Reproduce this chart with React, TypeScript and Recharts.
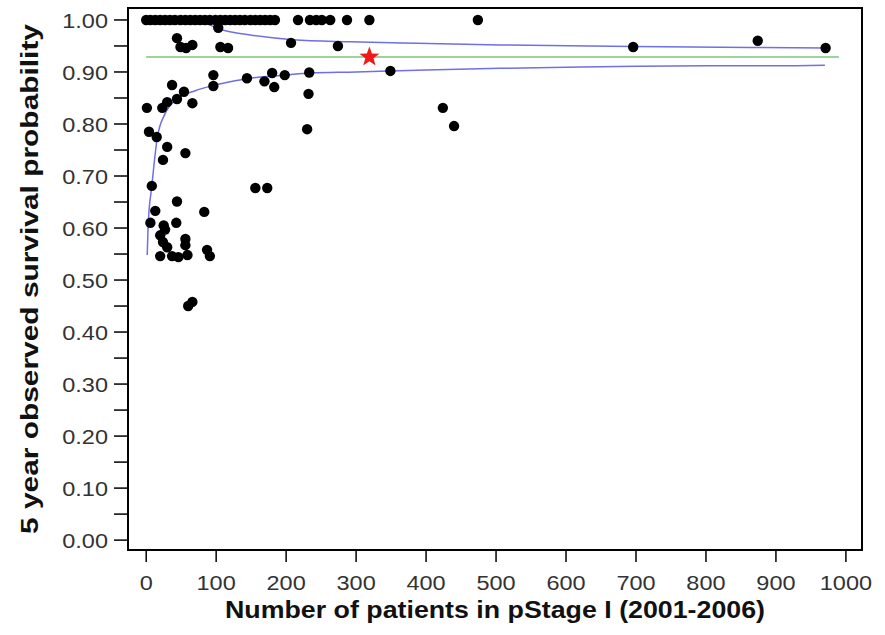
import React from 'react';
import { ComposedChart, XAxis, YAxis, Line, Scatter, ReferenceArea, Label } from 'recharts';

// Hospitals: number of pStage I patients and 5-year observed survival
const hospitalN = [
  0, 6, 13, 20, 27, 34, 41, 49, 56, 63, 70, 77, 84, 91, 99, 106, 113, 120, 127, 134, 141, 149, 156, 163, 170, 177, 184,
  217, 234, 243, 251, 263, 287, 319, 474,
  44, 49, 57, 66, 106, 117, 103, 207, 274, 696, 874, 971,
  96, 96, 37, 54, 44, 30, 23, 1, 66, 4, 15, 144, 169, 180, 183, 198, 233, 232, 230, 349, 424, 440,
  30, 56, 24, 8, 156, 173, 44, 13, 83, 6, 25, 43, 27, 20, 24, 56, 56, 30, 87, 20, 37, 46, 59, 91, 66, 60,
];
const hospitalSurvival = [
  1, 1, 1, 1, 1, 1, 1, 1, 1, 1, 1, 1, 1, 1, 1, 1, 1, 1, 1, 1, 1, 1, 1, 1, 1, 1, 1,
  1, 1, 1, 1, 1, 1, 1, 1,
  0.965, 0.948, 0.946, 0.952, 0.948, 0.946, 0.985, 0.956, 0.95, 0.948, 0.96, 0.946,
  0.894, 0.873, 0.875, 0.862, 0.848, 0.842, 0.831, 0.831, 0.84, 0.785, 0.775, 0.888, 0.882, 0.898, 0.871, 0.894, 0.899, 0.858, 0.79, 0.902, 0.831, 0.796,
  0.756, 0.744, 0.731, 0.681, 0.677, 0.677, 0.651, 0.633, 0.631, 0.61, 0.605, 0.61, 0.597, 0.586, 0.573, 0.579, 0.567, 0.563, 0.558, 0.546, 0.546, 0.544, 0.548, 0.546, 0.458, 0.45,
];

// Highlighted hospital (star)
const starN = [319];
const starSurvival = [0.929];

// Overall mean line
const meanN = [0, 990];
const meanSurvival = [0.929, 0.929];

// Funnel control limits
const lowerN = [1.5, 3, 8, 16, 27, 44, 70, 96, 127, 144, 200, 234, 300, 349, 400, 506, 600, 700, 800, 900, 970];
const lowerSurvival = [0.548, 0.61, 0.68, 0.775, 0.82, 0.848, 0.864, 0.874, 0.883, 0.887, 0.894, 0.898, 0.9, 0.902, 0.904, 0.907, 0.909, 0.911, 0.912, 0.912, 0.913];
const upperN = [75, 90, 103, 134, 149, 210, 291, 387, 506, 696, 971];
const upperSurvival = [1.0, 0.991, 0.983, 0.974, 0.971, 0.962, 0.958, 0.955, 0.952, 0.949, 0.946];

const xTicks = [0, 100, 200, 300, 400, 500, 600, 700, 800, 900, 1000];
const yTicks = [0, 0.05, 0.1, 0.15, 0.2, 0.25, 0.3, 0.35, 0.4, 0.45, 0.5, 0.55, 0.6, 0.65, 0.7, 0.75, 0.8, 0.85, 0.9, 0.95, 1.0];
const yTickLabels = ['0.00', '', '0.10', '', '0.20', '', '0.30', '', '0.40', '', '0.50', '', '0.60', '', '0.70', '', '0.80', '', '0.90', '', '1.00'];

const zip = (ns: number[], ys: number[]) => ns.map((n, i) => ({ n, y: ys[i] }));
const points = zip(hospitalN, hospitalSurvival);
const star = zip(starN, starSurvival);
const mean = zip(meanN, meanSurvival);
const lower = zip(lowerN, lowerSurvival);
const upper = zip(upperN, upperSurvival);

const X_DOMAIN: [number, number] = [-26, 1023];
const Y_DOMAIN: [number, number] = [-0.019, 1.023];
const FONT = '"Liberation Sans", Arial, sans-serif';

const XTick = (props: any) => {
  const { x, payload } = props;
  return (
    <g transform={`translate(${x},590) scale(1.12,1)`}>
      <text x={0} y={0} textAnchor="middle" fontSize={21} fill="#333" fontFamily={FONT}>
        {String(payload.value)}
      </text>
    </g>
  );
};

const YTick = (props: any) => {
  const { y, payload, index } = props;
  const lbl = yTickLabels[index] ?? '';
  if (!lbl) return null;
  return (
    <g transform={`translate(108,${y + 8}) scale(1.12,1)`}>
      <text x={0} y={0} textAnchor="end" fontSize={21} fill="#333" fontFamily={FONT}>
        {lbl}
      </text>
    </g>
  );
};

const Dot = (p: any) => <circle cx={p.cx} cy={p.cy} r={5.2} fill="#000" />;

const Star = (p: any) => {
  const R = 10.5;
  const r = 4.3;
  const pts: string[] = [];
  for (let i = 0; i < 10; i++) {
    const a = -Math.PI / 2 + (i * Math.PI) / 5;
    const rad = i % 2 === 0 ? R : r;
    pts.push(`${p.cx + rad * Math.cos(a)},${p.cy + rad * Math.sin(a)}`);
  }
  return <polygon points={pts.join(' ')} fill="#f01818" />;
};

export default function App() {
  return (
    <div style={{ position: 'absolute', left: 0, top: 0, background: '#fff' }}>
      <ComposedChart width={885} height={635} margin={{ top: 8, right: 23, left: 0, bottom: 0 }}>
        <XAxis
          dataKey="n"
          type="number"
          domain={X_DOMAIN}
          ticks={xTicks}
          allowDataOverflow
          axisLine={false}
          tickLine={{ stroke: '#000', strokeWidth: 1.5 }}
          tickSize={12}
          height={85}
          tick={<XTick />}
          interval={0}
        >
          <Label
            content={() => (
              <text
                x={495}
                y={618}
                textAnchor="middle"
                fontSize={24}
                fontWeight="bold"
                fill="#111"
                fontFamily={FONT}
                textLength={540}
                lengthAdjust="spacingAndGlyphs"
              >
                Number of patients in pStage I (2001-2006)
              </text>
            )}
          />
        </XAxis>
        <YAxis
          dataKey="y"
          type="number"
          domain={Y_DOMAIN}
          ticks={yTicks}
          allowDataOverflow
          axisLine={false}
          tickLine={{ stroke: '#000', strokeWidth: 1.5 }}
          tickSize={14}
          width={128}
          tick={<YTick />}
          interval={0}
        >
          <Label
            content={() => (
              <text
                transform="translate(38,279) rotate(-90)"
                x={0}
                y={0}
                textAnchor="middle"
                fontSize={24}
                fontWeight="bold"
                fill="#111"
                fontFamily={FONT}
                textLength={510}
                lengthAdjust="spacingAndGlyphs"
              >
                5 year observed survival probability
              </text>
            )}
          />
        </YAxis>
        <ReferenceArea
          x1={X_DOMAIN[0]}
          x2={X_DOMAIN[1]}
          y1={Y_DOMAIN[0]}
          y2={Y_DOMAIN[1]}
          fill="none"
          stroke="#000"
          strokeWidth={2}
          ifOverflow="visible"
        />
        <Line data={mean} dataKey="y" type="linear" stroke="#7cc47c" strokeWidth={1.5} dot={false} isAnimationActive={false} />
        <Line data={lower} dataKey="y" type="monotone" stroke="#6f6fe6" strokeWidth={1.5} dot={false} isAnimationActive={false} />
        <Line data={upper} dataKey="y" type="monotone" stroke="#6f6fe6" strokeWidth={1.5} dot={false} isAnimationActive={false} />
        <Scatter data={points} dataKey="y" shape={<Dot />} isAnimationActive={false} />
        <Scatter data={star} dataKey="y" shape={<Star />} isAnimationActive={false} />
      </ComposedChart>
    </div>
  );
}
